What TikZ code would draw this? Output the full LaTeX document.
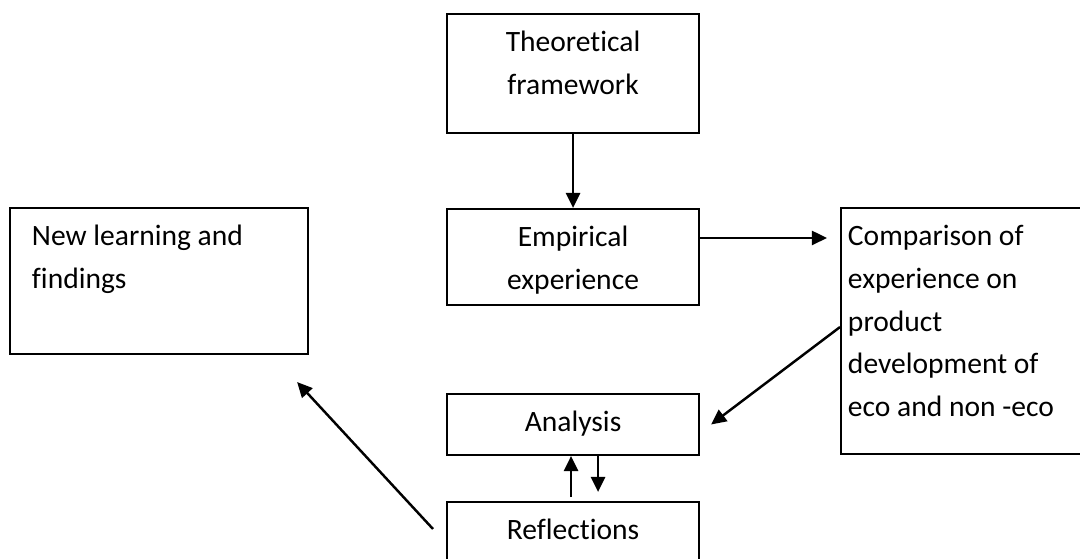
\documentclass[tikz,border=0pt]{standalone}
\usepackage{fontspec}
\setmainfont{Carlito}[Ligatures=NoCommon]
\usetikzlibrary{arrows.meta, positioning, calc}

\begin{document}
\begin{tikzpicture}[
  x=0.01cm, y=-0.01cm,
  >={Triangle[length=4.3pt, width=4pt]},
  box/.style={draw, line width=0.55pt, anchor=north west, inner ysep=0pt, inner xsep=0pt, text height=0.38cm, font=\fontsize{8.4}{12}\selectfont},
  arr/.style={->, line width=0.7pt}
  ]
  \useasboundingbox (0,0) rectangle (1080,558);
  \node[box, text width=2.52cm, text depth=0.81cm, align=center] (theo) at (446,13) {Theoretical\\framework};
  \node[box, text width=2.52cm, text depth=0.58cm, align=center] (emp) at (446,208) {Empirical\\experience};
  \node[box, inner xsep=0.22cm, text width=2.54cm, text depth=1.08cm, align=flush left] (learn) at (9,207) {New learning and\\findings};
  \node[box, inner xsep=0.07cm, text width=2.36cm, text depth=2.08cm, align=flush left, font=\fontsize{8.4}{12.1}\selectfont] (comp) at (840,207) {Comparison of\\experience on\\product\\development of\\eco and non -eco};
  \node[box, text width=2.52cm, text depth=0.23cm, align=center] (ana) at (446,393) {Analysis};
  \node[box, text width=2.52cm, text depth=0.32cm, align=center] (refl) at (446,501) {Reflections};
  \draw[arr] (theo.south) -- (emp.north);
  \draw[arr] ([yshift=0.19cm]emp.east) -- ([yshift=0.19cm, xshift=-0.13cm]emp.east -| comp.west);
  \draw[arr] ([yshift=0.04cm]comp.west) -- ([xshift=0.11cm]ana.east);
  \draw[arr] ([xshift=-0.02cm, yshift=0.04cm]refl.north) -- ([xshift=-0.02cm]ana.south);
  \draw[arr] ([xshift=0.25cm]ana.south) -- ([xshift=0.25cm, yshift=0.09cm]refl.north);
  \draw[arr] ([xshift=-0.13cm, yshift=0.08cm]refl.west) -- ([xshift=-0.12cm, yshift=-0.27cm]learn.south east);
\end{tikzpicture}
\end{document}
